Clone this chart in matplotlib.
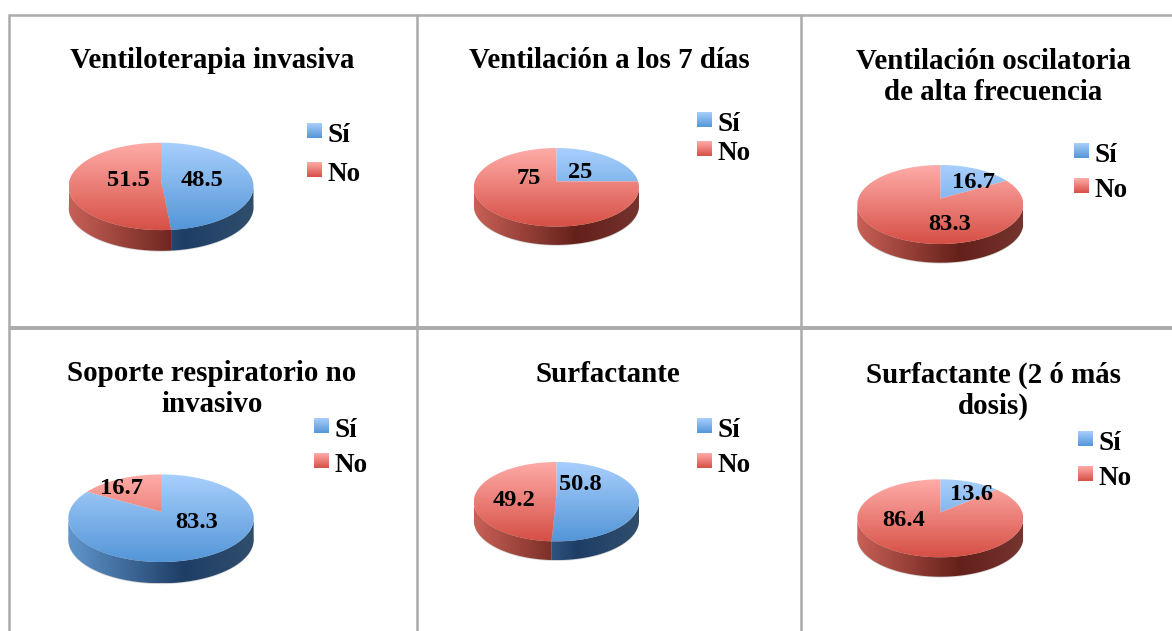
import numpy as np
import matplotlib
matplotlib.use("Agg")
import matplotlib.pyplot as plt
from matplotlib.patches import Polygon

### data ###
TITLES = ["Ventiloterapia invasiva", "Ventilación a los 7 días",
          "Ventilación oscilatoria\nde alta frecuencia",
          "Soporte respiratorio no\ninvasivo", "Surfactante",
          "Surfactante (2 ó más\ndosis)"]
SI_VALUES = [48.5, 25, 16.7, 83.3, 50.8, 13.6]
NO_VALUES = [51.5, 75, 83.3, 16.7, 49.2, 86.4]
LEGEND_NAMES = ["Sí", "No"]

### layout, in pixels of the 1172x631 picture ###
# cx, cy, rx, ry, depth of each pie
PIE_BOX = [(161, 186.4, 92.5, 43.7, 20.7), (556.4, 187.3, 82.6, 39.3, 18.3),
           (940.3, 204.5, 83, 39.5, 18.7), (161, 518.2, 92.7, 43.8, 21.3),
           (556.4, 501.7, 82.6, 39.7, 18.7), (940.3, 518.3, 83, 39, 19.4)]
TILT = 0.15  # how far the pie centre sits above the middle of the ellipse
TITLE_XY = [(212, 61), (609, 61), (993, 77), (212, 389), (608, 375), (993, 391)]
LABEL_SI_XY = [(202, 181), (580, 173), (974, 182), (197, 523), (580, 485), (972, 494)]
LABEL_NO_XY = [(128, 181), (529, 178), (950, 225), (122, 489), (514, 501), (904, 520)]
# swatch left, swatch top of Sí, swatch top of No
LEGEND_XY = [(307, 123, 162), (697, 112, 141), (1074, 143, 178),
             (314, 418, 453), (697, 418, 453), (1078, 431, 466)]
SWATCH = 15

GRID_COLOR = "#ababab"
FONT = "Liberation Serif"

TOP_COLORS = {"si": ((168, 207, 252), (84, 150, 216)),
              "no": ((255, 172, 168), (214, 80, 70))}
# colour of the wall from the left edge of the pie, darkest spot, right edge
WALL_COLORS = {"si": ((96, 150, 205), (30, 62, 102), (48, 78, 108)),
               "no": ((200, 96, 86), (100, 32, 26), (118, 52, 46))}
WALL_DARK_AT = 0.62


def warp(theta_deg, radius, box):
    # unit circle to the screen ellipse, with a bit of perspective
    cx, cy, rx, ry, _ = box
    u = radius * np.cos(np.radians(theta_deg))
    v = radius * np.sin(np.radians(theta_deg))
    w = 1 + TILT * v
    x = cx + rx * np.sqrt(1 - TILT**2) * u / w
    y = cy - TILT * ry - ry * (1 - TILT**2) * v / w
    return x, y


def vertical_gradient(ax, colors, x0, x1, y0, y1, clip):
    t = np.linspace(0, 1, 64)[:, None, None]
    c0, c1 = np.array(colors[0]), np.array(colors[1])
    img = (c0 + (c1 - c0) * t) / 255
    im = ax.imshow(img, extent=(x0, x1, y1, y0), aspect="auto", interpolation="bilinear", zorder=3)
    if clip is not None:
        im.set_clip_path(clip)


def wall_gradient(ax, colors, x0, x1, y0, y1, clip):
    t = np.linspace(0, 1, 128)
    stops = [0, WALL_DARK_AT, 1]
    img = np.stack([np.interp(t, stops, [c[i] for c in colors]) for i in range(3)], axis=-1)[None, :, :] / 255
    im = ax.imshow(img, extent=(x0, x1, y1, y0), aspect="auto", interpolation="bilinear", zorder=2)
    im.set_clip_path(clip)


def draw_pie(ax, si, no, box):
    cx, cy, rx, ry, depth = box
    wedges, _ = ax.pie([si, no], startangle=90, counterclock=False, radius=1, center=(0, 0), frame=True)
    # soft edge under the pie
    th = np.linspace(180, 360, 100)
    xs, ys = warp(th, 1, box)
    shadow = np.r_[np.c_[xs, ys + depth + 0.8], [[cx, cy]]]
    ax.add_patch(Polygon(shadow, closed=True, fc="#d2d2d2", ec="none", zorder=1))

    for wedge, key in zip(wedges, ["si", "no"]):
        wedge.set_visible(False)
        th = np.linspace(wedge.theta1, wedge.theta2, 200)
        xs, ys = warp(th, 1, box)
        ax0, ay0 = warp(0.0, 0.0, box)

        # side wall, only the part of the rim in front of the widest line
        front = ys >= cy
        if front.any():
            idx = np.where(front)[0]
            rim = np.c_[xs[idx], ys[idx]]
            wall = np.r_[rim, (rim + [0, depth])[::-1]]
            patch = Polygon(wall, closed=True, fc="none", ec="none", transform=ax.transData)
            ax.add_patch(patch)
            wall_gradient(ax, WALL_COLORS[key], cx - rx, cx + rx, cy, cy + ry + depth, patch)

        # top face
        top = np.r_[[[ax0, ay0]], np.c_[xs, ys]]
        patch = Polygon(top, closed=True, fc="none", ec="none", transform=ax.transData)
        ax.add_patch(patch)
        vertical_gradient(ax, TOP_COLORS[key], cx - rx, cx + rx, cy - ry, cy + ry, patch)


fig = plt.figure(figsize=(11.72, 6.31), dpi=100)
ax = fig.add_axes([0, 0, 1, 1])

for i in range(len(TITLES)):
    box = PIE_BOX[i]
    draw_pie(ax, SI_VALUES[i], NO_VALUES[i], box)

    ax.text(TITLE_XY[i][0], TITLE_XY[i][1], TITLES[i], ha="center", va="center", family=FONT,
            weight="bold", fontsize=20.9, linespacing=1.19, color="black", zorder=6)
    ax.text(LABEL_SI_XY[i][0], LABEL_SI_XY[i][1], f"{SI_VALUES[i]:g}", ha="center", va="center",
            family=FONT, weight="bold", fontsize=17.6, color="black", zorder=6)
    ax.text(LABEL_NO_XY[i][0], LABEL_NO_XY[i][1], f"{NO_VALUES[i]:g}", ha="center", va="center",
            family=FONT, weight="bold", fontsize=17.6, color="black", zorder=6)

    lx, ly_si, ly_no = LEGEND_XY[i]
    for name, ly, key in zip(LEGEND_NAMES, (ly_si, ly_no), ("si", "no")):
        vertical_gradient(ax, TOP_COLORS[key], lx, lx + SWATCH, ly, ly + SWATCH, None)
        ax.text(lx + SWATCH + 5.5, ly + SWATCH / 2 + 5, name, ha="left", va="center", family=FONT,
                weight="bold", fontsize=19.5, color="black", zorder=6)

# table rules
ax.plot([8.5, 1172], [14.5, 14.5], color=GRID_COLOR, lw=1.8, zorder=5, solid_capstyle="butt")
ax.plot([8.5, 1172], [327.5, 327.5], color=GRID_COLOR, lw=2.8, zorder=5, solid_capstyle="butt")
for x in (9, 416.5, 800.5):
    ax.plot([x, x], [14, 631], color=GRID_COLOR, lw=1.8, zorder=5, solid_capstyle="butt")

ax.set_aspect("auto")
ax.set_xlim(0, 1172)
ax.set_ylim(631, 0)
ax.axis("off")

fig.savefig("out.png", dpi=100, facecolor="white")
plt.close(fig)
